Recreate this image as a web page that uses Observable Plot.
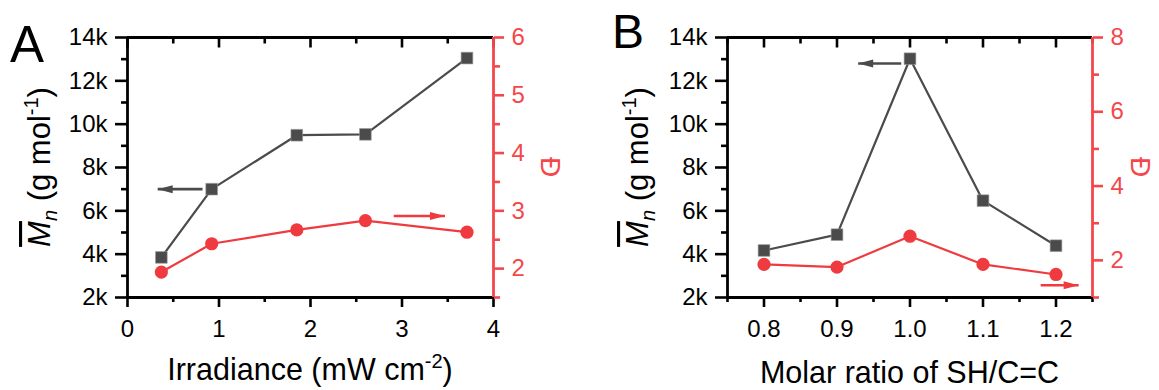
<!DOCTYPE html>
<html><head><meta charset="utf-8">
<script src="https://cdn.jsdelivr.net/npm/d3@7"></script>
<script src="https://cdn.jsdelivr.net/npm/@observablehq/plot@0.6"></script>
<style>
body{margin:0;background:#fff;}
#wrap{display:flex;width:1159px;height:390px;overflow:hidden;}
#wrap svg{flex:none;font-family:"Liberation Sans",Arial,sans-serif;}
</style></head><body><div id="wrap"></div>
<script>
// ---------- Panel A data ----------
const irradiance = [0.37, 0.92, 1.85, 2.60, 3.71];
const mnA = [3850, 7000, 9490, 9530, 13050];
const dispA = [1.94, 2.43, 2.67, 2.83, 2.63];
// ---------- Panel B data ----------
const ratio = [0.8, 0.9, 1.0, 1.1, 1.2];
const mnB = [4170, 4900, 13020, 6470, 4390];
const dispB = [1.89, 1.82, 2.65, 1.89, 1.62];

// ---------- ticks ----------
const mnTicks = [2000, 4000, 6000, 8000, 10000, 12000, 14000];
const mnMinor = [3000, 5000, 7000, 9000, 11000, 13000];
const xTicksA = [0, 1, 2, 3, 4];
const xMinorA = [0.5, 1.5, 2.5, 3.5];
const dTicksA = [2, 3, 4, 5, 6];
const dMinorA = [1.5, 2.5, 3.5, 4.5, 5.5];
const xTicksB = [0.8, 0.9, 1.0, 1.1, 1.2];
const xMinorB = [0.75, 0.85, 0.95, 1.05, 1.15, 1.25];
const dTicksB = [2, 4, 6, 8];
const dMinorB = [1, 3, 5, 7];

// ---------- arrow annotations (from, to, level) ----------
const arrowsA = {grey: [0.82, 0.33, 7000], red: [2.91, 3.47, 2.91]};
const arrowsB = {grey: [0.988, 0.929, 12800], red: [1.179, 1.231, 1.33]};

const GREY = "#4b4b4b", RED = "#ef3b3f", RED_AX = "#f4474b";
const FONT = "Liberation Sans, Arial, sans-serif";

const tickSym = (len) => ({draw(c) { c.moveTo(0, 0); c.lineTo(0, len); }});
const headLeft = {draw(c) { c.moveTo(0, 0); c.lineTo(15, -4); c.lineTo(15, 4); c.closePath(); }};
const headRight = {draw(c) { c.moveTo(0, 0); c.lineTo(-15, -4); c.lineTo(-15, 4); c.closePath(); }};

function panel(cfg) {
  const [mnLo, mnHi] = [2000, 14000];
  const [dLo, dHi] = cfg.dDomain;
  const toL = v => mnLo + (v - dLo) * (mnHi - mnLo) / (dHi - dLo);
  const fromL = y => dLo + (y - mnLo) * (dHi - dLo) / (mnHi - mnLo);
  const rowsM = cfg.x.map((x, i) => ({x, y: cfg.mn[i]}));
  const rowsD = cfg.x.map((x, i) => ({x, y: toL(cfg.disp[i])}));
  const [gx1, gx2, gy] = cfg.arrows.grey;
  const [rx1, rx2, rv] = cfg.arrows.red;
  const sw = 2.6;
  const TF = 24;
  const svg = Plot.plot({
    width: cfg.width, height: 390,
    marginLeft: cfg.ml, marginRight: cfg.mr, marginTop: 37, marginBottom: 93,
    style: {fontSize: TF + "px", fontFamily: FONT, background: "white"},
    x: {domain: cfg.xDomain, label: null},
    y: {domain: [mnLo, mnHi], label: null},
    marks: [
      // left axis
      Plot.axisY({ticks: mnTicks, anchor: "left", tickSize: 12, tickPadding: 8, strokeWidth: sw,
        tickFormat: d => d / 1000 + "k", fontSize: TF, color: "black", label: null}),
      Plot.axisY({ticks: mnMinor, anchor: "left", tickSize: 6, strokeWidth: sw,
        tickFormat: () => "", color: "black", label: null}),
      // bottom axis
      Plot.axisX({ticks: cfg.xTicks, anchor: "bottom", tickSize: 10, tickPadding: 12, strokeWidth: sw,
        tickFormat: cfg.xFmt, fontSize: TF, color: "black", label: null}),
      Plot.axisX({ticks: cfg.xMinor, anchor: "bottom", tickSize: 5, strokeWidth: sw,
        tickFormat: () => "", color: "black", label: null}),
      // top inward ticks
      Plot.dot(cfg.xTicks, {x: d => d, frameAnchor: "top", symbol: tickSym(10), r: 3, stroke: "black", fill: "none", strokeWidth: sw}),
      Plot.dot(cfg.xMinor, {x: d => d, frameAnchor: "top", symbol: tickSym(6), r: 3, stroke: "black", fill: "none", strokeWidth: sw}),
      // right axis (dispersity)
      Plot.axisY({ticks: cfg.dTicks.map(toL), anchor: "right", tickSize: 10, tickPadding: 8, strokeWidth: sw,
        tickFormat: d => String(Math.round(fromL(d) * 100) / 100), fontSize: TF, color: RED_AX, label: null}),
      Plot.axisY({ticks: cfg.dMinor.map(toL), anchor: "right", tickSize: 6, strokeWidth: sw,
        tickFormat: () => "", color: RED_AX, label: null}),
      // frame lines
      Plot.ruleY([mnLo, mnHi], {stroke: "black", strokeWidth: 2.8}),
      Plot.ruleX([cfg.xDomain[0]], {stroke: "black", strokeWidth: 2.8}),
      Plot.ruleX([cfg.xDomain[1]], {stroke: RED_AX, strokeWidth: 2.8}),
      // series
      Plot.line(rowsM, {x: "x", y: "y", stroke: GREY, strokeWidth: 2.2}),
      Plot.dot(rowsM, {x: "x", y: "y", symbol: "square", r: 6.6, fill: GREY, stroke: "#9a9a9a", strokeWidth: 0.6}),
      Plot.line(rowsD, {x: "x", y: "y", stroke: RED, strokeWidth: 2.2}),
      Plot.dot(rowsD, {x: "x", y: "y", symbol: "circle", r: 6.6, fill: RED}),
      // arrows
      Plot.link([0], {x1: () => gx1, x2: () => gx2, y1: () => gy, y2: () => gy, stroke: GREY, strokeWidth: 2.6}),
      Plot.dot([0], {x: () => gx2, y: () => gy, symbol: gx2 < gx1 ? headLeft : headRight, r: 3, fill: GREY, stroke: "none"}),
      Plot.link([0], {x1: () => rx1, x2: () => rx2, y1: () => toL(rv), y2: () => toL(rv), stroke: RED, strokeWidth: 2.6}),
      Plot.dot([0], {x: () => rx2, y: () => toL(rv), symbol: rx2 < rx1 ? headLeft : headRight, r: 3, fill: RED, stroke: "none"})
    ]
  });
  const s = d3.select(svg);
  const W = cfg.width, top = 37, bottom = 390 - 93;
  const cx = cfg.ml + (W - cfg.ml - cfg.mr) / 2, cy = (top + bottom) / 2;
  // panel letter
  s.append("text").attr("x", cfg.letterX).attr("y", cfg.letterY).attr("font-size", cfg.letterSize)
    .attr("text-anchor", "start").attr("font-family", FONT).attr("fill", "black").text(cfg.letter);
  // x title
  const xt = s.append("text").attr("x", cx).attr("y", cfg.xTitleY).attr("text-anchor", "middle")
    .attr("font-size", 30.5).attr("font-family", FONT).attr("fill", "black");
  cfg.xTitle(xt);
  // y title (left)
  const yt = s.append("text").attr("transform", `translate(${cfg.yTitleX},${cy}) rotate(-90)`)
    .attr("text-anchor", "middle").attr("font-size", 31).attr("font-family", FONT).attr("fill", "black");
  yt.append("tspan").attr("font-style", "italic").attr("text-decoration", "overline").text("M");
  yt.append("tspan").attr("font-style", "italic").attr("font-size", 20).attr("dy", 7).text("n");
  yt.append("tspan").attr("dy", -7).text(" (g mol");
  yt.append("tspan").attr("font-size", 20).attr("dy", -12).text("-1");
  yt.append("tspan").attr("dy", 12).text(")");
  // right title
  s.append("text").attr("transform", `translate(${cfg.rTitleX},${cy}) rotate(90)`)
    .attr("text-anchor", "middle").attr("font-size", 28).attr("font-family", FONT).attr("fill", RED_AX).text("Đ");
  return svg;
}

const wrap = document.getElementById("wrap");
wrap.appendChild(panel({
  letter: "A", letterX: 10, letterY: 62, letterSize: 51,
  width: 580, ml: 127, mr: 87,
  x: irradiance, mn: mnA, disp: dispA, dDomain: [1.5, 6],
  xDomain: [0, 4], xTicks: xTicksA, xMinor: xMinorA, xFmt: d => String(d),
  dTicks: dTicksA, dMinor: dMinorA, arrows: arrowsA,
  xTitleY: 380, yTitleX: 50, rTitleX: 541,
  xTitle: t => { t.append("tspan").text("Irradiance (mW cm"); t.append("tspan").attr("font-size", 20).attr("dy", -12).text("-2"); t.append("tspan").attr("dy", 12).text(")"); }
}));
wrap.appendChild(panel({
  letter: "B", letterX: 32, letterY: 48, letterSize: 48,
  width: 579, ml: 147, mr: 67,
  x: ratio, mn: mnB, disp: dispB, dDomain: [1, 8],
  xDomain: [0.75, 1.25], xTicks: xTicksB, xMinor: xMinorB, xFmt: d3.format(".1f"),
  dTicks: dTicksB, dMinor: dMinorB, arrows: arrowsB,
  xTitleY: 383, yTitleX: 68, rTitleX: 551,
  xTitle: t => { t.text("Molar ratio of SH/C=C"); }
}));
</script></body></html>
